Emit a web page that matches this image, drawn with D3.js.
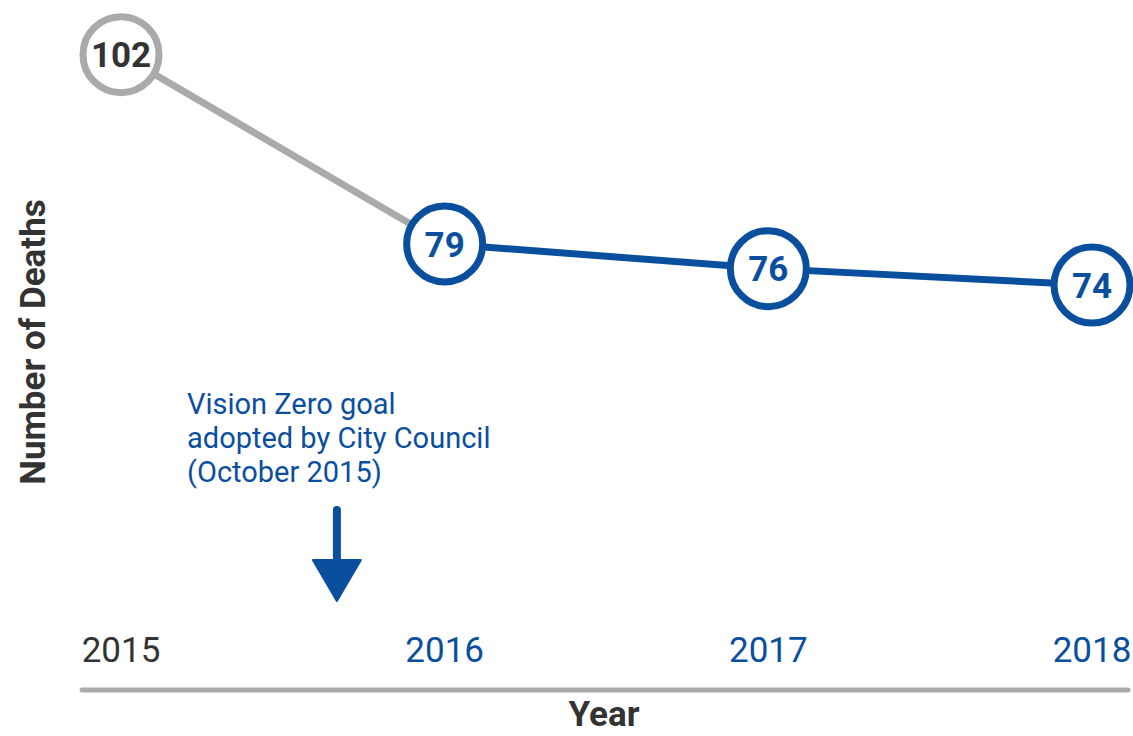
<!DOCTYPE html>
<html>
<head>
    <script src="https://d3js.org/d3.v7.min.js"></script>
    <style>
        body { margin: 0; background: #fff; }
        text { font-family: Roboto, "Open Sans", sans-serif; }
    </style>
</head>
<body>

<script>
const years = [2015, 2016, 2017, 2018];
const deaths = [102, 79, 76, 74];
const tickLabels = ['2015', '2016', '2017', '2018'];
const noteLines = ['Vision Zero goal', 'adopted by City Council', '(October 2015)'];

const blue = '#0a4f9e';
const gray = '#aaaaaa';
const dark = '#333333';

const width = 1133, height = 736;

const svg = d3.select('body')
    .append('svg')
    .attr('width', width)
    .attr('height', height);

// x: one slot per year
const xScale = d3.scalePoint()
    .domain(years)
    .range([121, 1092]);

// y: plain linear scale for the count
const yScale = d3.scaleLinear()
    .domain([70, 105])
    .range([318, 30]);

const points = years.map((y, i) => ({ year: y, value: deaths[i], before: i === 0 }));

const line = d3.line()
    .x(d => xScale(d.year))
    .y(d => yScale(d.value));

// gray segment before the goal, blue after
svg.append('path')
    .attr('d', line(points.slice(0, 2)))
    .attr('fill', 'none')
    .attr('stroke', gray)
    .attr('stroke-width', 7);

svg.append('path')
    .attr('d', line(points.slice(1)))
    .attr('fill', 'none')
    .attr('stroke', blue)
    .attr('stroke-width', 7);

const dots = svg.selectAll('g.dot')
    .data(points)
    .enter()
    .append('g')
    .attr('class', 'dot')
    .attr('transform', d => `translate(${xScale(d.year)},${yScale(d.value)})`);

dots.append('circle')
    .attr('r', 38)
    .attr('fill', '#fff')
    .attr('stroke', d => d.before ? gray : blue)
    .attr('stroke-width', 7);

dots.append('text')
    .attr('text-anchor', 'middle')
    .attr('dy', '0.36em')
    .attr('font-size', 35)
    .attr('font-weight', 'bold')
    .attr('fill', d => d.before ? dark : blue)
    .text(d => d.value);

// x axis: baseline and year labels
const axisY = 690;
svg.append('line')
    .attr('x1', 82)
    .attr('x2', 1128)
    .attr('y1', axisY)
    .attr('y2', axisY)
    .attr('stroke', gray)
    .attr('stroke-width', 5)
    .attr('stroke-linecap', 'round');

svg.selectAll('text.tick')
    .data(years)
    .enter()
    .append('text')
    .attr('class', 'tick')
    .attr('x', d => xScale(d))
    .attr('y', 662)
    .attr('text-anchor', 'middle')
    .attr('font-size', 35)
    .attr('fill', (d, i) => i === 0 ? dark : blue)
    .text((d, i) => tickLabels[i]);

svg.append('text')
    .attr('x', 604)
    .attr('y', 726)
    .attr('text-anchor', 'middle')
    .attr('font-size', 35)
    .attr('font-weight', 'bold')
    .attr('fill', dark)
    .text('Year');

svg.append('text')
    .attr('transform', 'translate(45,342) rotate(-90)')
    .attr('text-anchor', 'middle')
    .attr('font-size', 35)
    .attr('font-weight', 'bold')
    .attr('fill', dark)
    .text('Number of Deaths');

// annotation for the goal adoption
const noteX = xScale(2015) + xScale.step() * 0.667;
svg.selectAll('text.note')
    .data(noteLines)
    .enter()
    .append('text')
    .attr('class', 'note')
    .attr('x', 187)
    .attr('y', (d, i) => 414 + i * 34)
    .attr('font-size', 29)
    .attr('fill', blue)
    .text(d => d);

svg.append('line')
    .attr('x1', noteX)
    .attr('x2', noteX)
    .attr('y1', 510)
    .attr('y2', 570)
    .attr('stroke', blue)
    .attr('stroke-width', 8)
    .attr('stroke-linecap', 'round');

svg.append('path')
    .attr('d', `M${noteX - 24},560 L${noteX + 24},560 L${noteX},601 Z`)
    .attr('fill', blue)
    .attr('stroke', blue)
    .attr('stroke-width', 2)
    .attr('stroke-linejoin', 'round');
</script>

</body>
</html>
